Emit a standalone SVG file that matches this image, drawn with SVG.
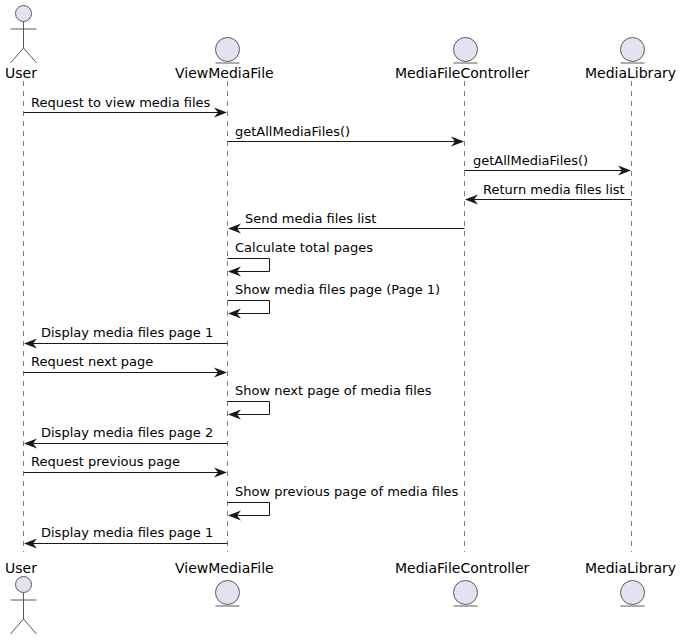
<svg xmlns="http://www.w3.org/2000/svg" width="680" height="640" viewBox="0 0 680 640">
<style>
text{font-family:"DejaVu Sans",sans-serif;fill:#000}
.p{font-size:14px}
.m{font-size:13px}
.b{fill:#E2E2F0;stroke:#5a5a5a;stroke-width:1}
.s{fill:none;stroke:#5a5a5a;stroke-width:1}
.l{fill:none;stroke:#5a5a5a;stroke-width:.8;stroke-dasharray:5 5}
.c{fill:none;stroke:#181818;stroke-width:1}
.h{fill:#181818}
</style>
<defs>
<g id="actor"><circle class="b" cx="23.5" cy="13.5" r="8"/><path class="s" d="M23.5 21.500V48M10.500 29H36.500M23.500 48L10.500 63M23.500 48L36.500 63"/></g>
<g id="entity"><circle class="b" cx="0" cy="49.500" r="12"/><path class="s" d="M-12 63H12"/></g>
<path id="ar" class="h" d="M0 0L-13 -5L-9 0L-13 5Z"/>
<path id="al" class="h" d="M0 0L13 -5L9 0L13 5Z"/>
</defs>
<g id="lifelines">
<path class="l" d="M23.500 81V552"/><path class="l" d="M227.500 81V552"/><path class="l" d="M464.500 81V552"/><path class="l" d="M631.500 81V552"/>
</g>
<g id="connectors">
<path class="c" d="M23.500 112.500H220"/><use href="#ar" x="227" y="112.500"/>
<path class="c" d="M227.500 141.500H457"/><use href="#ar" x="464" y="141.500"/>
<path class="c" d="M464.500 170.500H624"/><use href="#ar" x="631" y="170.500"/>
<path class="c" d="M631.500 199.500H472"/><use href="#al" x="465" y="199.500"/>
<path class="c" d="M464.500 228.500H235"/><use href="#al" x="228" y="228.500"/>
<path class="c" d="M227.500 258.500H269.500V271.500H235"/><use href="#al" x="228" y="271.500"/>
<path class="c" d="M227.500 300.500H269.500V313.500H235"/><use href="#al" x="228" y="313.500"/>
<path class="c" d="M227.500 343.500H31"/><use href="#al" x="24" y="343.500"/>
<path class="c" d="M23.500 372.500H220"/><use href="#ar" x="227" y="372.500"/>
<path class="c" d="M227.500 401.500H269.500V414.500H235"/><use href="#al" x="228" y="414.500"/>
<path class="c" d="M227.500 443.500H31"/><use href="#al" x="24" y="443.500"/>
<path class="c" d="M23.500 472.500H220"/><use href="#ar" x="227" y="472.500"/>
<path class="c" d="M227.500 502.500H269.500V515.500H235"/><use href="#al" x="228" y="515.500"/>
<path class="c" d="M227.500 543.500H31"/><use href="#al" x="24" y="543.500"/>
</g>
<g id="node-user"><use href="#actor"/><text class="p" x="5" y="78">User</text><use href="#actor" y="571"/><text class="p" x="5" y="573">User</text></g>
<g id="node-viewmediafile"><use href="#entity" x="227.500"/><text class="p" x="175" y="78">ViewMediaFile</text><use href="#entity" x="227.500" y="543"/><text class="p" x="175" y="573">ViewMediaFile</text></g>
<g id="node-mediafilecontroller"><use href="#entity" x="465.500"/><text class="p" x="395" y="78">MediaFileController</text><use href="#entity" x="465.500" y="543"/><text class="p" x="395" y="573">MediaFileController</text></g>
<g id="node-medialibrary"><use href="#entity" x="632.500"/><text class="p" x="585" y="78">MediaLibrary</text><use href="#entity" x="632.500" y="543"/><text class="p" x="585" y="573">MediaLibrary</text></g>
<g id="labels">
<text class="m" x="31" y="107">Request to view media files</text>
<text class="m" x="235" y="136">getAllMediaFiles()</text>
<text class="m" x="473" y="165">getAllMediaFiles()</text>
<text class="m" x="483" y="194">Return media files list</text>
<text class="m" x="245" y="223">Send media files list</text>
<text class="m" x="235" y="252">Calculate total pages</text>
<text class="m" x="235" y="294">Show media files page (Page 1)</text>
<text class="m" x="41" y="337">Display media files page 1</text>
<text class="m" x="31" y="366">Request next page</text>
<text class="m" x="235" y="395">Show next page of media files</text>
<text class="m" x="41" y="437">Display media files page 2</text>
<text class="m" x="31" y="466">Request previous page</text>
<text class="m" x="235" y="496">Show previous page of media files</text>
<text class="m" x="41" y="537">Display media files page 1</text>
</g>
</svg>
